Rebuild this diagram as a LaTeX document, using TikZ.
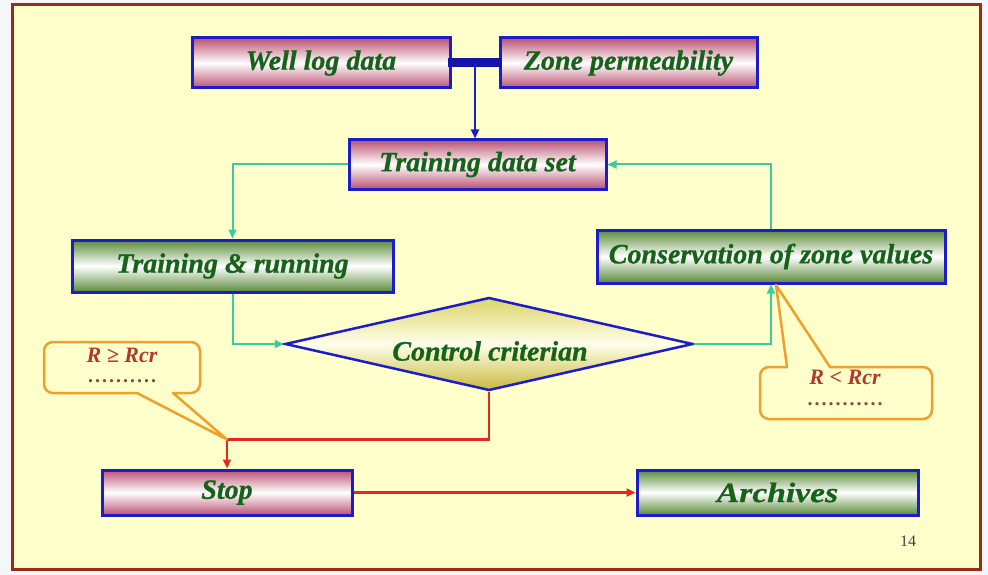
\documentclass[tikz,border=0pt]{standalone}
\usepackage{fontspec}
\setmainfont{Liberation Serif}
\usetikzlibrary{arrows.meta,shapes.geometric,calc}
\definecolor{bgyellow}{HTML}{FFFFCC}
\definecolor{outside}{HTML}{F4F6FA}
\definecolor{framered}{HTML}{9B2A1A}
\definecolor{boxblue}{HTML}{1C1CC8}
\definecolor{barblue}{HTML}{1414A8}
\definecolor{txtgreen}{HTML}{16621A}
\definecolor{pinkc}{HTML}{BA5272}
\definecolor{greenc}{HTML}{5A8A3A}
\definecolor{linkteal}{HTML}{3CCC9C}
\definecolor{linkred}{HTML}{E8281E}
\definecolor{callorange}{HTML}{F0A02A}
\definecolor{calltext}{HTML}{B03A2A}
\definecolor{calldot}{HTML}{8A4A3A}
\definecolor{diatop}{HTML}{DCD468}
\definecolor{diabot}{HTML}{C8BA3C}
\begin{document}
\begin{tikzpicture}[x=1pt,y=-1pt,
  box/.style={draw=boxblue, line width=3pt, rectangle, inner sep=0pt, text=txtgreen,
    font=\fontsize{28}{30}\selectfont\bfseries\itshape\addfontfeature{FakeBold=0.8}},
  pinkbox/.style={box, top color=pinkc, bottom color=pinkc, middle color=white},
  greenbox/.style={box, top color=greenc, bottom color=greenc, middle color=white},
  diabox/.style={box, diamond, line width=2.5pt, top color=diatop, bottom color=diabot, middle color=white!92!yellow},
  tealarrow/.style={draw=linkteal, line width=2pt, -{Triangle[length=9pt,width=8pt]}},
  redarrow/.style={draw=linkred, line width=2.5pt, -{Triangle[length=9pt,width=8pt]}},
  bluearrow/.style={draw=boxblue, line width=2.5pt, -{Triangle[length=9pt,width=8pt]}},
  callout/.style={draw=callorange, line width=2.5pt, fill=bgyellow, line join=round},
  calltxt/.style={text=calltext, font=\fontsize{22}{24}\selectfont\bfseries\itshape, inner sep=0pt},
  calldots/.style={text=calldot, font=\fontsize{20}{22}\selectfont\bfseries\addfontfeature{LetterSpace=10}, inner sep=0pt}
]
\fill[outside] (0,0) rectangle (988,575);
\useasboundingbox (0,0) rectangle (988,575);
\draw[framered, line width=3pt, fill=bgyellow] (12,5) rectangle (980,569);

% boxes
\node[pinkbox, minimum width=258pt, minimum height=50pt] (well) at (321,63) {Well log data};
\node[pinkbox, minimum width=257pt, minimum height=50pt] (zone) at (628.5,63) {Zone permeability};
\node[pinkbox, minimum width=257pt, minimum height=49pt] (tds) at (477.5,164.5) {Training data set};
\node[greenbox, minimum width=321pt, minimum height=52pt] (tr) at (232.5,266) {Training \& running};
\node[greenbox, minimum width=348pt, minimum height=53pt] (cons) at (771,256.5) {Conservation of zone values};
\node[diabox, minimum width=408pt, minimum height=93pt] (dia) at (489,344) {};
\node[box, draw=none, text=txtgreen] (diatxt) at (490,351) {Control criterian};
\node[pinkbox, minimum width=250pt, minimum height=45pt] (stop) at (227,492.5) {Stop};
\node[greenbox, minimum width=281pt, minimum height=45pt, font=\fontsize{28}{30}\selectfont\bfseries\itshape\addfontfeature{FakeBold=0.8,FakeStretch=1.2}] (arch) at (777.5,492.5) {Archives};

% top junction
\coordinate (j) at ($(well.east)!0.5!(zone.west)$);
\draw[barblue, line width=9pt] ([xshift=-4pt]well.east) -- ([xshift=3pt]zone.west);
\draw[bluearrow] (j) -- (j |- tds.north);

% loop connectors
\draw[tealarrow] (tds.west) -| (tr.north);
\draw[tealarrow] (tr.south) |- (dia.west);
\draw[tealarrow] (dia.east) -| (cons.south);
\draw[tealarrow] (cons.north) |- (tds.east);

% red connectors
\coordinate (rc) at ($(stop.north)+(0,-29)$);
\draw[redarrow] (dia.south) |- (rc) -- (stop.north);
\draw[redarrow] (stop.east) -- (arch.west);

% callouts
\coordinate (lt) at (rc);
\draw[callout] (lt) -- (137,393) [rounded corners=9pt] -- (44,393) -- (44,342) -- (200,342) -- (200,393) [sharp corners] -- (173,393) -- cycle;
\node[calltxt] (c1a) at (122,355) {R ≥ Rcr};
\node[calldots] (c1b) at (122,381) {..........};

\coordinate (rt) at (776,285);
\draw[callout] (rt) -- (787,367) [rounded corners=9pt] -- (760,367) -- (760,419) -- (932,419) -- (932,367) [sharp corners] -- (830,367) -- cycle;
\node[calltxt] (c2a) at (845,377) {R < Rcr};
\node[calldots] (c2b) at (845,404) {...........};

\node[font=\fontsize{16}{18}\selectfont, text=black!75, inner sep=0pt] (pg) at (908,541) {14};
\end{tikzpicture}
\end{document}
